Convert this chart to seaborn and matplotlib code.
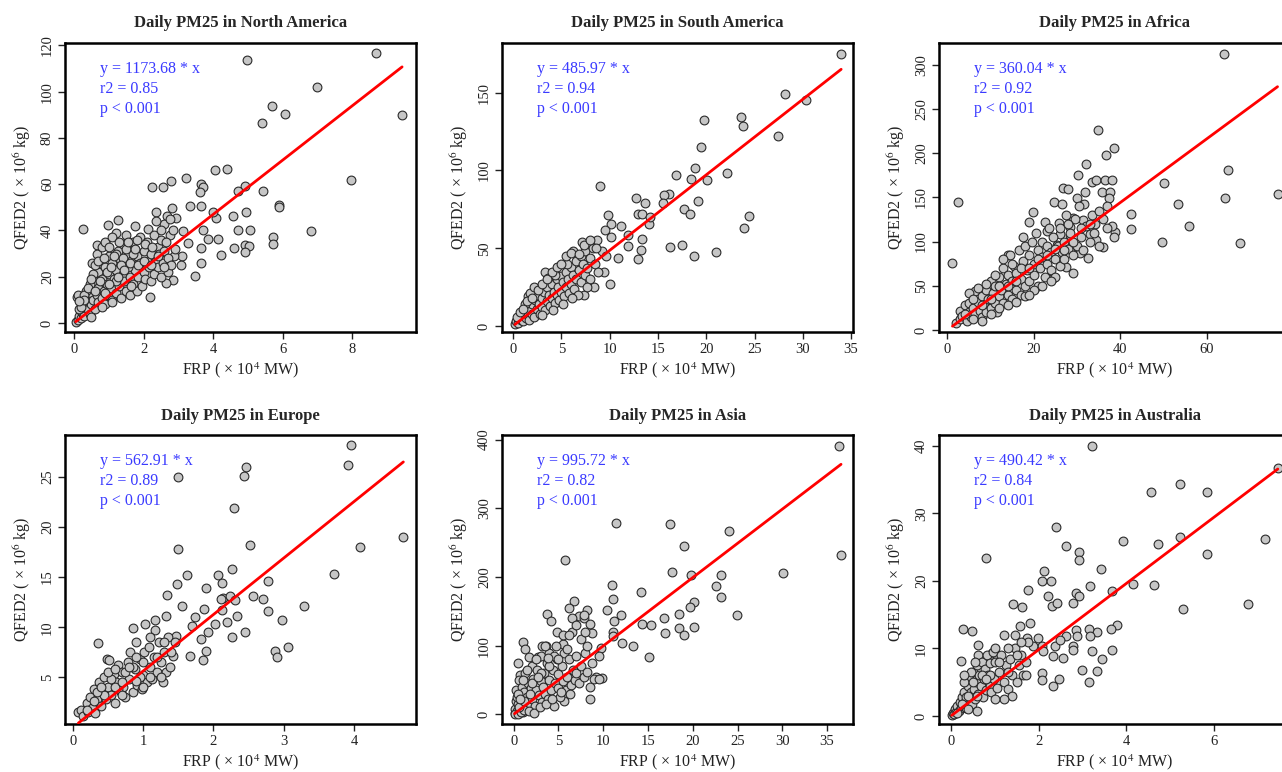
import numpy as np
import pandas as pd
import matplotlib
matplotlib.use("Agg")
import matplotlib.pyplot as plt
import seaborn as sns

# Data (FRP in 1e4 MW, QFED2 PM2.5 in 1e6 kg)
regions = ["North America", "South America", "Africa", "Europe", "Asia", "Australia"]
slopes = [1173.68, 485.97, 360.04, 562.91, 995.72, 490.42]
r2_values = [0.85, 0.94, 0.92, 0.89, 0.82, 0.84]

na_points = [
    (8.67, 116.7), (4.97, 113.8), (6.97, 102), (5.68, 93.7), (6.06, 90.5), (5.40, 86.5),
    (9.43, 90), (7.95, 62), (6.82, 39.9), (4.39, 66.7), (4.04, 66.3), (4.90, 59),
    (4.70, 57.2), (5.42, 57.2), (5.88, 51.2), (5.88, 50), (4.94, 48), (4.57, 46.4),
    (4.09, 45.4), (3.99, 48), (4.71, 40), (5.06, 40), (4.14, 36.5), (4.59, 32.4),
    (4.90, 33.9), (5.04, 33.1), (4.92, 30.7), (5.73, 37.2), (5.73, 34.3), (4.23, 29.5),
    (3.70, 40.3), (3.85, 36.3), (3.66, 32.4), (3.64, 25.9), (3.47, 20.5), (3.11, 28.8),
    (3.08, 25.2), (3.32, 50.4), (3.23, 62.7), (3.64, 60.2), (3.72, 58.8), (3.63, 56.5),
    (3.66, 50.4), (2.25, 58.8), (2.56, 58.8), (2.80, 61.2), (2.82, 49.7), (2.35, 48),
    (2.68, 46.1), (2.94, 45.4), (3.13, 39.6), (3.27, 34.6), (2.88, 28.8), (2.85, 18.7),
    (2.65, 17.3), (2.17, 11.1), (0.25, 40.6), (0.99, 42.5), (1.27, 44.4), (1.22, 38.9),
    (1.75, 41.8), (2.13, 40.6), (0.65, 33.9), (0.92, 33.9), (0.51, 25.9), (0.08, 11.1),
    (0.05, 0.5), (0.1, 1.5), (0.15, 3), (0.2, 2), (0.2, 5), (0.25, 4), (0.3, 7), (0.3, 3),
    (0.35, 9), (0.4, 6), (0.4, 11), (0.45, 4), (0.5, 8), (0.5, 13), (0.5, 15), (0.55, 10),
    (0.6, 6), (0.6, 18), (0.65, 12), (0.7, 9), (0.7, 15), (0.7, 22), (0.75, 26), (0.8, 11),
    (0.8, 19), (0.85, 14), (0.9, 8), (0.9, 24), (0.95, 17), (1.0, 12), (1.0, 21), (1.0, 29),
    (1.05, 15), (1.1, 10), (1.1, 26), (1.15, 19), (1.2, 13), (1.2, 23), (1.25, 31), (1.3, 16),
    (1.3, 28), (1.35, 11), (1.4, 21), (1.4, 34), (1.45, 18), (1.5, 14), (1.5, 25), (1.55, 30),
    (1.6, 20), (1.6, 12), (1.65, 27), (1.7, 17), (1.7, 35), (1.75, 23), (1.8, 14), (1.8, 29),
    (1.85, 20), (1.9, 26), (1.9, 37), (1.95, 16), (2.0, 22), (2.0, 31), (2.05, 19), (2.1, 27),
    (2.1, 35), (2.15, 24), (2.2, 18), (2.2, 30), (2.3, 21), (2.3, 38), (2.35, 27), (2.4, 24),
    (2.4, 33), (2.45, 30), (2.5, 20), (2.5, 36), (2.55, 26), (2.6, 43), (2.6, 31), (2.7, 22),
    (2.7, 28), (2.75, 38), (2.8, 25), (2.9, 32), (0.35, 14), (0.45, 17), (0.55, 21), (0.6, 25),
    (0.65, 30), (0.8, 33), (0.9, 35), (1.0, 33), (1.1, 37), (1.2, 30), (1.4, 28), (1.5, 38),
    (1.7, 30), (1.8, 36), (1.55, 24), (1.2, 18), (0.95, 22), (1.35, 25), (0.25, 9), (0.15, 6),
    (0.1, 12), (0.3, 12), (0.4, 15), (0.5, 19), (0.6, 14), (0.7, 27), (0.75, 18), (0.85, 28),
    (0.9, 13), (1.0, 17), (1.05, 24), (1.15, 29), (1.25, 20), (1.3, 35), (1.45, 23), (1.5, 32),
    (1.6, 26), (1.65, 16), (1.75, 32), (1.85, 25), (2.0, 27), (2.05, 34), (2.2, 25), (2.25, 33),
    (2.4, 29), (2.5, 40), (2.6, 24), (2.65, 35), (2.75, 45), (2.85, 40), (0.2, 7), (0.3, 10),
    (0.5, 2.5), (0.8, 7), (1.1, 9), (0.15, 9.5), (1.55, 35), (2.35, 44),
]

sa_points = [
    (33.97, 175), (28.2, 149.4), (30.3, 145.1), (19.8, 132.7), (23.6, 134.4), (23.8, 128.4),
    (27.4, 122.2), (19.5, 115.1), (18.8, 101.9), (22.1, 98.4), (16.9, 97.4), (18.4, 94.8),
    (20.1, 94.2), (8.97, 90.1), (16.1, 85.2), (15.6, 84.1), (19.2, 80.5), (15.5, 78.8),
    (12.7, 82), (13.7, 78.8), (17.7, 75.5), (18.3, 72.3), (24.4, 70.6), (23.9, 63.1),
    (16.2, 50.9), (17.5, 52.4), (18.7, 45.2), (21.0, 47.7), (12.9, 43), (13.2, 48.8),
    (13.3, 55.9), (12.9, 71.7), (13.3, 71.7), (14.1, 65.3), (14.2, 70.2), (11.2, 64.4),
    (11.9, 58.4), (11.9, 51.6), (10.9, 43.4), (10.0, 26.7), (9.4, 34.9), (8.35, 24.8),
    (7.3, 19.9), (9.84, 71.3), (10.1, 65.5), (10.1, 57.4), (9.5, 61.6),
    (0.2, 1), (0.3, 3), (0.5, 2), (0.6, 5), (0.8, 4), (1.0, 7), (1.0, 3), (1.2, 9), (1.3, 5),
    (1.5, 12), (1.5, 7), (1.7, 4), (1.8, 10), (2.0, 14), (2.0, 8), (2.2, 6), (2.3, 17),
    (2.5, 11), (2.5, 20), (2.7, 14), (2.8, 8), (3.0, 18), (3.0, 12), (3.2, 22), (3.3, 10),
    (3.5, 16), (3.5, 25), (3.7, 20), (3.8, 13), (4.0, 27), (4.0, 18), (4.2, 22), (4.3, 15),
    (4.5, 30), (4.5, 20), (4.7, 25), (4.8, 17), (5.0, 32), (5.0, 22), (5.2, 28), (5.3, 19),
    (5.5, 35), (5.5, 25), (5.7, 30), (5.8, 21), (6.0, 38), (6.0, 27), (6.2, 33), (6.3, 24),
    (6.5, 42), (6.5, 30), (6.8, 36), (7.0, 45), (7.0, 28), (7.2, 40), (7.5, 33), (7.5, 48),
    (7.7, 37), (8.0, 44), (8.0, 30), (8.3, 50), (8.5, 40), (8.7, 55), (8.8, 35), (1.2, 14),
    (1.6, 19), (1.8, 21), (2.2, 25), (3.3, 35), (0.4, 6), (0.7, 9), (3.6, 31), (4.3, 33),
    (5.6, 40), (6.2, 48), (7.1, 54), (9.2, 48), (9.6, 45), (5.2, 14), (3.0, 7), (6.7, 20),
    (1.0, 11), (1.4, 16), (2.0, 18), (2.6, 23), (3.0, 27), (3.5, 30), (4.0, 35), (4.6, 38),
    (5.0, 40), (5.5, 45), (6.0, 47), (6.8, 46), (7.3, 52), (8.0, 55), (8.6, 50), (4.1, 10),
    (6.1, 18), (7.7, 25),
]

af_points = [
    (64.0, 312.4), (34.9, 225.8), (38.6, 205.9), (36.7, 198.3), (32.0, 187.4), (30.3, 175),
    (26.7, 160.7), (28.0, 159.2), (33.4, 167.5), (34.4, 170.1), (36.5, 169.4), (38.2, 169.4),
    (35.8, 156.2), (37.6, 156.2), (37.5, 148.7), (24.7, 144.9), (26.6, 142.3), (31.8, 156.2),
    (29.9, 148.7), (31.7, 142.3), (2.5, 144.9), (1.2, 75.3), (50.1, 166.4), (65.0, 181.4),
    (53.4, 142.3), (64.2, 148.7), (76.4, 153.2), (56.0, 117.8), (49.6, 99.7), (67.7, 97.9),
    (42.5, 131.7), (42.4, 114), (38.8, 110.3), (38.6, 104.6), (38.0, 117.4), (36.1, 93.3),
    (30.3, 91.1), (29.1, 64), (27.4, 71.5), (19.9, 132.9), (18.9, 121.6), (17.6, 105.4),
    (14.1, 84.7), (22.7, 122.3), (23.0, 112.2), (25.9, 121.2), (26.1, 109.1), (28.4, 116.7),
    (28.5, 107.3), (33.0, 109.1), (34.5, 101.6), (34.2, 120.4), (29.1, 126.1), (31.5, 124.2),
    (25.3, 96), (32.6, 80.9), (30.7, 86.6), (24.5, 58.3),
    (2, 8), (3, 12), (3, 22), (3.5, 16), (4, 28), (4.5, 10), (5, 20), (5, 30), (5.5, 15),
    (6, 25), (6.5, 44), (6.5, 18), (7, 32), (7.5, 22), (8, 38), (8, 15), (8.5, 28), (9, 45),
    (9, 20), (9.5, 35), (10, 55), (10, 25), (10.5, 42), (11, 30), (11, 50), (11.5, 20),
    (12, 38), (12, 60), (12.5, 45), (13, 30), (13, 70), (13.5, 52), (14, 40), (14, 62),
    (14.5, 85), (15, 35), (15, 55), (15.5, 72), (16, 45), (16, 65), (16.5, 90), (17, 58),
    (17, 40), (17.5, 78), (18, 50), (18, 95), (18.5, 68), (19, 55), (19, 85), (19.5, 100),
    (20, 62), (20, 75), (20.5, 110), (21, 50), (21, 90), (21.5, 70), (22, 82), (22, 100),
    (22.5, 60), (23, 95), (23, 75), (23.5, 115), (24, 68), (24, 88), (24.5, 105), (25, 80),
    (25, 60), (25.5, 95), (26, 72), (26, 115), (26.5, 88), (27, 100), (27, 80), (27.5, 130),
    (28, 92), (28.5, 110), (29, 85), (29.5, 125), (30, 95), (30.5, 140), (31, 105), (31.5, 90),
    (32, 118), (33, 100), (33.5, 130), (34, 110), (35, 95), (36, 125), (37, 115), (8, 10),
    (10, 18), (12, 25), (14, 28), (16, 32), (18, 38), (20, 45), (22, 50), (24, 55), (5, 42),
    (7, 48), (9, 52), (11, 62), (13, 80), (4, 18), (6, 12), (6, 35), (8, 28), (10, 35),
    (12, 50), (14, 50), (15, 75), (17, 70), (19, 70), (21, 80), (23, 85), (25, 92), (27, 90),
    (29, 100), (31, 115), (33, 120), (19, 40), (16, 55), (28, 120), (35, 135), (37, 140),
]

eu_points = [
    (3.95, 28.1), (3.91, 26.2), (2.46, 26), (2.44, 25.1), (1.50, 25), (2.29, 21.9),
    (1.49, 17.8), (2.52, 18.2), (4.70, 19), (4.09, 18), (3.72, 15.3), (3.29, 12.1),
    (2.77, 14.6), (2.97, 10.7), (2.78, 11.6), (2.70, 12.8), (2.56, 13.1), (2.87, 7.6),
    (2.91, 7), (3.06, 8), (2.45, 9.5), (2.26, 9), (2.27, 15.8), (2.07, 15.2), (2.12, 14.4),
    (1.89, 13.9), (2.13, 12.9), (2.23, 13.1), (2.30, 12.7), (2.33, 11.1), (2.11, 12.8),
    (2.12, 11.7), (2.19, 10.5), (2.02, 10.3), (1.93, 9.5), (1.90, 7.6), (1.85, 6.7),
    (1.83, 8.8), (1.86, 11.8), (1.62, 15.2), (1.48, 14.3), (1.56, 12.1), (1.34, 13.2),
    (1.32, 11.1), (1.17, 10.7), (1.03, 10.3), (1.17, 9.7), (0.85, 9.9), (0.36, 8.4),
    (0.49, 6.8), (1.74, 11), (1.70, 10.1), (1.47, 9.1), (1.43, 7.1), (1.67, 7.1),
    (0.08, 1.6), (0.12, 1.8), (0.15, 1.2), (0.2, 2.5), (0.22, 1.6), (0.25, 3), (0.28, 2),
    (0.3, 3.8), (0.32, 1.5), (0.35, 2.8), (0.38, 4.5), (0.4, 2.2), (0.42, 3.5), (0.45, 5),
    (0.48, 2.8), (0.5, 4), (0.52, 6.7), (0.55, 3.2), (0.58, 5.3), (0.6, 2.5), (0.62, 4.5),
    (0.65, 6.2), (0.68, 3.5), (0.7, 5.5), (0.72, 4), (0.75, 3), (0.78, 6.5), (0.8, 4.8),
    (0.82, 7.5), (0.85, 3.5), (0.88, 5.8), (0.9, 8.5), (0.92, 4.2), (0.95, 6.8), (0.98, 3.8),
    (1.0, 5.2), (1.02, 7.5), (1.05, 4.5), (1.08, 8), (1.1, 6), (1.12, 4.8), (1.15, 7),
    (1.2, 5.5), (1.22, 8.5), (1.25, 6.5), (1.28, 4.5), (1.3, 7.5), (1.32, 5.5), (1.35, 9),
    (1.38, 6), (1.4, 7.5), (1.45, 8.5), (0.55, 4.8), (0.65, 3.8), (0.75, 5.5), (0.85, 6),
    (0.95, 5), (0.5, 5.5), (0.45, 3.2), (0.35, 3.5), (0.9, 4.6), (1.0, 4), (1.1, 5),
    (0.7, 3.2), (0.6, 4), (0.3, 2.6), (0.2, 1.8), (0.6, 5.8), (0.8, 6), (1.0, 6.5),
    (1.2, 7), (1.3, 8.5), (0.7, 4.5), (0.9, 7), (1.1, 9), (0.4, 4), (1.25, 5),
]

as_points = [
    (36.3, 390.3), (36.56, 232.7), (11.43, 278.8), (17.42, 277.8), (24.1, 266.7),
    (18.99, 244.8), (5.77, 224), (30.1, 206), (17.65, 207.5), (19.84, 202.7), (23.16, 202.7),
    (22.56, 186.7), (23.1, 170.7), (10.98, 188.1), (11.1, 168.2), (14.22, 178.4),
    (20.18, 163.4), (19.73, 156.1), (18.43, 145.5), (24.9, 144), (16.75, 139.6), (14.3, 130.9),
    (15.34, 129.9), (20.14, 127), (18.43, 125.1), (19.06, 115.4), (16.9, 118.8), (13.3, 98.9),
    (15.15, 83.9), (11.99, 144), (11.24, 135.8), (10.46, 151.3), (12.1, 104.2), (11.1, 120.2),
    (11.1, 113.9), (3.69, 145.5), (4.17, 135.8), (6.70, 164.8), (6.14, 155.2), (8.19, 151.3),
    (7.26, 143), (7.9, 139.6), (8.56, 130.9), (8.75, 118.8), (9.75, 97), (9.86, 53.3),
    (8.49, 21.8), (4.84, 119.8), (5.51, 101.8), (3.61, 99.4), (1.04, 105.7), (0.45, 75.2),
    (0.74, 57.2), (1.30, 94.5), (1.71, 83.4), (2.68, 83.4), (5.58, 19.4),
    (0.1, 2), (0.2, 8), (0.3, 20), (0.3, 35), (0.4, 5), (0.5, 15), (0.6, 50), (0.7, 10),
    (0.8, 28), (0.9, 40), (1.0, 4), (1.0, 18), (1.2, 32), (1.3, 60), (1.4, 8), (1.5, 25),
    (1.6, 45), (1.8, 15), (1.9, 38), (2.0, 70), (2.1, 22), (2.2, 52), (2.4, 12), (2.5, 35),
    (2.6, 65), (2.8, 28), (3.0, 48), (3.0, 85), (3.2, 18), (3.3, 40), (3.4, 60), (3.5, 30),
    (3.7, 75), (3.8, 22), (4.0, 50), (4.0, 90), (4.2, 35), (4.4, 65), (4.5, 12), (4.6, 45),
    (4.8, 80), (5.0, 38), (5.0, 58), (5.2, 25), (5.4, 70), (5.5, 48), (5.6, 90), (5.8, 35),
    (6.0, 55), (6.2, 80), (6.4, 42), (6.6, 65), (6.8, 50), (7.0, 85), (7.0, 60), (7.3, 45),
    (7.5, 70), (7.8, 55), (8.0, 90), (8.2, 62), (8.5, 40), (8.8, 75), (9.2, 55), (9.5, 85),
    (0.2, 0), (0.5, 1), (0.8, 3), (1.1, 6), (0.4, 25), (0.6, 10), (1.7, 5), (2.3, 2),
    (2.9, 10), (3.6, 15), (4.3, 22), (6.3, 30), (9.0, 52), (9.5, 52), (5.3, 32), (4.7, 100),
    (6.5, 120), (3.2, 100), (0.5, 30), (1.0, 50), (1.5, 65), (2.0, 45), (2.5, 80), (3.0, 60),
    (3.5, 100), (4.0, 70), (4.5, 85), (5.0, 80), (5.5, 115), (6.0, 95), (6.5, 140), (7.0, 130),
    (7.5, 110), (7.8, 145), (8.2, 100), (8.0, 120), (6.2, 115), (3.8, 82), (2.7, 55),
    (1.8, 30), (1.2, 20), (0.7, 22),
]

au_points = [
    (3.22, 40), (7.45, 36.7), (5.22, 34.3), (4.56, 33.1), (5.83, 33.1), (2.40, 28),
    (0.80, 23.3), (2.62, 25.1), (2.92, 24.2), (2.92, 23.1), (3.93, 25.9), (4.71, 25.5),
    (5.21, 26.5), (7.15, 26.2), (5.83, 23.9), (3.41, 21.8), (2.12, 21.5), (2.07, 20),
    (2.27, 20), (1.76, 18.6), (3.16, 19.3), (4.14, 19.5), (4.62, 19.4), (3.68, 18.5),
    (2.22, 17.8), (2.85, 18.2), (2.93, 17.8), (2.79, 16.7), (5.28, 15.9), (6.77, 16.6),
    (1.41, 16.5), (1.63, 16.1), (2.30, 16.2), (2.42, 16.7), (3.78, 13.5), (3.65, 12.8),
    (3.32, 12.4), (3.15, 12.9), (3.17, 11.9), (2.85, 12.7), (2.87, 11.9), (2.62, 11.8),
    (3.67, 9.8), (3.22, 9.6), (3.45, 8.4), (2.98, 6.8), (3.32, 6.6), (3.14, 5.1), (2.47, 5.4),
    (2.33, 4.4), (2.08, 6.3), (2.08, 5.3), (2.79, 10.4), (2.79, 9.8), (0.28, 12.9),
    (0.47, 12.5), (0.22, 8.2), (0.62, 10.5), (0.62, 9), (0.93, 9.3), (1.04, 9), (1.80, 13.8),
    (1.58, 13.3), (1.46, 12), (1.73, 11.5), (1.99, 11.5), (2.07, 10.3), (1.88, 10.3),
    (2.11, 9.6), (2.32, 8.8), (2.56, 8.6), (2.37, 10.3), (2.49, 11.3),
    (0.02, 0.1), (0.05, 0.5), (0.08, 0.3), (0.1, 1), (0.12, 0.6), (0.15, 1.5), (0.18, 0.8),
    (0.2, 2), (0.22, 1.2), (0.25, 2.8), (0.28, 1.5), (0.3, 3.5), (0.32, 2), (0.35, 1.2),
    (0.38, 4.5), (0.4, 2.5), (0.42, 5.5), (0.45, 3.5), (0.48, 1.8), (0.5, 6.5), (0.52, 4),
    (0.55, 2.5), (0.58, 5), (0.6, 7.5), (0.62, 3.2), (0.65, 6), (0.68, 4.5), (0.7, 8),
    (0.72, 2.8), (0.75, 5.5), (0.78, 7), (0.8, 3.8), (0.82, 9), (0.85, 6), (0.88, 4.5),
    (0.9, 7.8), (0.92, 3.5), (0.95, 9.5), (0.98, 5.5), (1.0, 8), (1.05, 4.2), (1.1, 6.5),
    (1.15, 9), (1.2, 5), (1.25, 7.5), (1.3, 4), (1.35, 8.5), (1.4, 6), (1.45, 10), (1.5, 5),
    (1.55, 7.5), (1.6, 9), (1.65, 6), (1.7, 8), (1.75, 11), (1.4, 3), (1.2, 2.5), (0.3, 5),
    (0.45, 6.5), (0.55, 8), (0.6, 0.8), (0.35, 2.8), (0.25, 1.8), (0.15, 0.4), (1.0, 2.5),
    (0.4, 1), (0.3, 6), (0.5, 5), (0.7, 6), (0.9, 6), (1.1, 8), (1.3, 10), (1.5, 9),
    (1.6, 11), (1.2, 12), (1.0, 10), (0.8, 5.5), (0.6, 3), (0.4, 3), (1.7, 6), (1.3, 6.5),
]

all_points = [na_points, sa_points, af_points, eu_points, as_points, au_points]

# axis setup per panel (limits and ticks)
xlims = [(-0.26, 9.83), (-1.14, 35.2), (-1.9, 79.3), (-0.11, 4.88), (-1.3, 37.9), (-0.27, 7.73)]
ylims = [(-3.9, 121.2), (-3.9, 182.3), (-2.3, 325), (0.33, 29.16), (-14.5, 407), (-1.23, 41.6)]
xticks = [np.arange(0, 9, 2), np.arange(0, 36, 5), np.arange(0, 61, 20),
          np.arange(0, 5, 1), np.arange(0, 36, 5), np.arange(0, 7, 2)]
yticks = [np.arange(0, 121, 20), np.arange(0, 151, 50), np.arange(0, 301, 50),
          np.arange(5, 26, 5), np.arange(0, 401, 100), np.arange(0, 41, 10)]

sns.set_style("ticks")
plt.rcParams["font.family"] = ["Liberation Serif", "DejaVu Serif"]
plt.rcParams["mathtext.fontset"] = "stix"

fig = plt.figure(figsize=(12.82, 7.72), dpi=100)

lefts = [0.0507, 0.3916, 0.7325]
bottoms = [0.5699, 0.0618]
w, h = 0.2738, 0.3750

for i, region in enumerate(regions):
    ax = fig.add_axes([lefts[i % 3], bottoms[i // 3], w, h])
    df = pd.DataFrame(all_points[i], columns=["frp", "qfed"])

    sns.scatterplot(data=df, x="frp", y="qfed", ax=ax, s=40, color="#c6c6c6",
                    edgecolor="#2a2a2a", linewidth=0.8, zorder=2)

    # regression line through origin
    xs = np.array([df["frp"].min(), df["frp"].max()])
    fit = pd.DataFrame({"frp": xs, "qfed": slopes[i] / 100 * xs})
    sns.lineplot(data=fit, x="frp", y="qfed", ax=ax, color="red", linewidth=2, zorder=3)

    ax.set_xlim(*xlims[i])
    ax.set_ylim(*ylims[i])
    ax.set_xticks(xticks[i])
    ax.set_yticks(yticks[i])
    ax.tick_params(axis="both", direction="out", length=5, width=1, labelsize=10.5,
                   colors="#222222", pad=3)
    for lab in ax.get_yticklabels():
        lab.set_rotation(90)
        lab.set_va("center")
    for sp in ax.spines.values():
        sp.set_linewidth(1.8)
        sp.set_color("black")

    ax.set_xlabel("FRP ( \u00d7 10$^4$ MW)", fontsize=11.5, color="#222222", labelpad=3)
    ax.set_ylabel("QFED2 ( \u00d7 10$^6$ kg)", fontsize=11.5, color="#222222", labelpad=6)
    ax.set_title(f"Daily PM25 in {region}", fontsize=12, fontweight="bold", pad=11)

    txt = dict(transform=ax.transAxes, color="#3a3aff", fontsize=11.5, va="center", ha="left")
    ax.text(0.1, 0.91, f"y = {slopes[i]:.2f} * x", **txt)
    ax.text(0.1, 0.841, f"r2 = {r2_values[i]:.2f}", **txt)
    ax.text(0.1, 0.772, "p < 0.001", **txt)

fig.savefig("out.png", dpi=100)
